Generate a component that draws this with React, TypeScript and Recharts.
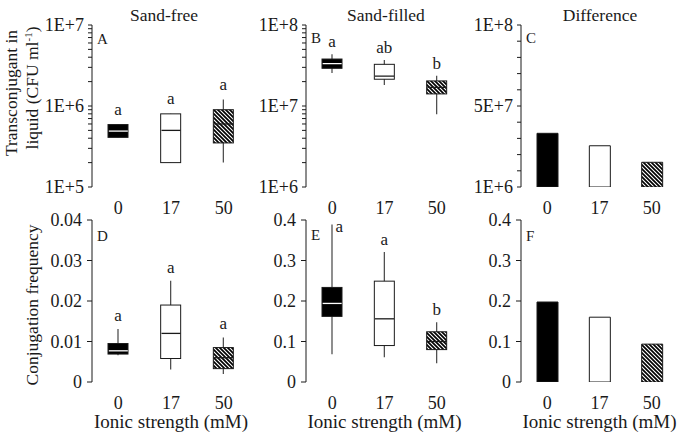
import { ComposedChart, Bar, Line, XAxis, YAxis, Cell, LabelList } from "recharts";

const FONT = "Liberation Serif, Times New Roman, serif";
const INK = "#1a1a1a";

const categories = ["0", "17", "50"];

// A: sand-free, transconjugants in liquid (CFU/ml)
const freeMin = [4.1e5, 2.0e5, 2.0e5];
const freeQ1 = [4.1e5, 2.0e5, 3.5e5];
const freeMedian = [4.9e5, 5.0e5, 6.0e5];
const freeQ3 = [5.9e5, 8.0e5, 9.0e5];
const freeMax = [5.9e5, 8.0e5, 1.2e6];
const freeSig = ["a", "a", "a"];

// B: sand-filled
const filledMin = [2.55e7, 1.82e7, 7.9e6];
const filledQ1 = [2.92e7, 2.14e7, 1.41e7];
const filledMedian = [3.33e7, 2.34e7, 1.7e7];
const filledQ3 = [3.8e7, 3.27e7, 2.04e7];
const filledMax = [4.35e7, 3.7e7, 2.37e7];
const filledSig = ["a", "ab", "b"];

// C: difference
const diffLiquid = [3.38e7, 2.62e7, 1.61e7];

// D: conjugation frequency, sand-free
const freqFreeMin = [0.0066, 0.0031, 0.002];
const freqFreeQ1 = [0.0069, 0.0058, 0.0033];
const freqFreeMedian = [0.0077, 0.012, 0.006];
const freqFreeQ3 = [0.0095, 0.019, 0.0085];
const freqFreeMax = [0.0131, 0.025, 0.011];
const freqFreeSig = ["a", "a", "a"];

// E: conjugation frequency, sand-filled
const freqFilledMin = [0.0685, 0.061, 0.046];
const freqFilledQ1 = [0.162, 0.09, 0.08];
const freqFilledMedian = [0.194, 0.156, 0.1];
const freqFilledQ3 = [0.2335, 0.249, 0.124];
const freqFilledMax = [0.389, 0.321, 0.1475];
const freqFilledSig = ["a", "a", "b"];

// F: difference
const diffFreq = [0.1975, 0.16, 0.0935];

// tick values
const ticksFree = [1e5, 2e5, 3e5, 4e5, 5e5, 6e5, 7e5, 8e5, 9e5, 1e6, 2e6, 3e6, 4e6, 5e6, 6e6, 7e6, 8e6, 9e6, 1e7];
const ticksFilled = [1e6, 2e6, 3e6, 4e6, 5e6, 6e6, 7e6, 8e6, 9e6, 1e7, 2e7, 3e7, 4e7, 5e7, 6e7, 7e7, 8e7, 9e7, 1e8];
const ticksDiff = [1e6, 1.09e7, 2.08e7, 3.07e7, 4.06e7, 5.05e7, 6.04e7, 7.03e7, 8.02e7, 9.01e7, 1e8];
const diffLabelled = [1e6, 5.05e7, 1e8];
const ticksFreqFree = [0, 0.01, 0.02, 0.03, 0.04];
const ticksFreqFilled = [0, 0.1, 0.2, 0.3, 0.4];
const bandTicks = [0, 1, 2, 3];

const fills = ["#000", "#fff", "url(#hatch)"];
const medianColors = ["#fff", INK, INK];

const boxRows = (mn: number[], q1: number[], md: number[], q3: number[], mx: number[], sig: string[]) =>
  categories.map((cat, i) => ({ cat, wh: [mn[i], mx[i]], box: [q1[i], q3[i]], med: md[i], sig: sig[i] }));
const barRows = (v: number[]) => categories.map((cat, i) => ({ cat, v: v[i] }));

const expFmt = (v: number) => {
  const s = v.toExponential(0);
  return s.startsWith("1e") ? s.toUpperCase() : "";
};
const diffFmt = (v: number) => (diffLabelled.includes(v) ? v.toExponential(0).toUpperCase() : "");

const tickStyle = { fill: INK, fontSize: 18, fontFamily: FONT };

const idx = (p: any) => (typeof p.index === "number" ? p.index : categories.indexOf(p.payload?.cat ?? p.cat));

const Whisker = (p: any) => {
  const cx = p.x + p.width / 2;
  return <line x1={cx} x2={cx} y1={p.y} y2={p.y + p.height} stroke="#444" strokeWidth={1.2} />;
};
const BoxShape = (p: any) => (
  <rect x={p.x} y={p.y} width={p.width} height={p.height} fill={fills[idx(p)]} stroke={INK} strokeWidth={1} />
);
const MedianDot = (p: any) => (
  <line key={`m${p.index}`} x1={p.cx - 9.5} x2={p.cx + 9.5} y1={p.cy} y2={p.cy} stroke={medianColors[p.index]} strokeWidth={1.3} />
);

const sigLabel = (offset: number, plotTop: number) => (p: any) => {
  const vb = p.viewBox ?? p;
  const x = vb.x ?? p.x;
  const y = vb.y ?? p.y;
  const w = vb.width ?? p.width;
  const cx = x + w / 2;
  if (y - offset - 14 < plotTop) {
    return (
      <text x={cx + 3.5} y={y + 8} fill={INK} fontSize={17} fontFamily={FONT}>
        {p.value}
      </text>
    );
  }
  return (
    <text x={cx} y={y - offset} textAnchor="middle" fill={INK} fontSize={17} fontFamily={FONT}>
      {p.value}
    </text>
  );
};

type Geo = { left: number; top: number; axisW: number; plotW: number; mt: number; plotH: number; xh: number };

const Panel = ({ g, rows, kind, y, sigOffset = 8, xTitle = false }: any) => {
  const geo = g as Geo;
  const width = geo.axisW + geo.plotW + 6;
  const height = geo.mt + geo.plotH + geo.xh;
  return (
    <div style={{ position: "absolute", left: geo.left, top: geo.top }}>
      <ComposedChart width={width} height={height} data={rows} margin={{ top: geo.mt, right: 6, bottom: 0, left: 0 }}>
        <XAxis xAxisId={0} type="number" domain={[0, 3]} ticks={bandTicks} tick={false} tickSize={5} height={0} stroke={INK} allowDataOverflow />
        <XAxis
          xAxisId={1}
          dataKey="cat"
          axisLine={false}
          tickLine={false}
          tickSize={5}
          tickMargin={9}
          height={geo.xh}
          interval={0}
          tick={tickStyle}
          label={
            xTitle
              ? { value: "Ionic strength (mM)", position: "insideBottom", offset: 4, fill: INK, fontSize: 19, fontFamily: FONT }
              : undefined
          }
        />
        <XAxis xAxisId={2} dataKey="cat" hide />
        <XAxis xAxisId={3} orientation="top" type="number" domain={[0, 1]} tick={false} tickLine={false} height={0} stroke={INK} />
        <YAxis
          yAxisId={0}
          width={geo.axisW}
          type="number"
          scale={y.scale}
          domain={y.domain}
          ticks={y.ticks}
          tickFormatter={y.fmt}
          interval={0}
          tickSize={y.tickSize}
          tickMargin={y.tickMargin}
          allowDataOverflow
          stroke={INK}
          tick={tickStyle}
        />
        <YAxis yAxisId={1} orientation="right" type="number" domain={[0, 1]} tick={false} tickLine={false} width={0} stroke={INK} />
        {kind === "box" && (
          <Bar xAxisId={1} yAxisId={0} dataKey="wh" barSize={20} shape={Whisker} isAnimationActive={false}>
            <LabelList dataKey="sig" content={sigLabel(sigOffset, geo.mt)} />
          </Bar>
        )}
        {kind === "box" && (
          <Bar xAxisId={2} yAxisId={0} dataKey="box" barSize={20} shape={BoxShape} isAnimationActive={false} />
        )}
        {kind === "box" && (
          <Line xAxisId={1} yAxisId={0} dataKey="med" stroke="none" dot={MedianDot} activeDot={false} isAnimationActive={false} />
        )}
        {kind === "bar" && (
          <Bar xAxisId={1} yAxisId={0} dataKey="v" barSize={21} stroke={INK} strokeWidth={1} isAnimationActive={false}>
            {rows.map((_: any, i: number) => (
              <Cell key={i} fill={fills[i]} />
            ))}
          </Bar>
        )}
      </ComposedChart>
    </div>
  );
};

const topRow = { top: 0, mt: 25, plotH: 162, xh: 40 };
const bottomRow = { top: 200, mt: 20, plotH: 162, xh: 50 };
const colA = { left: 0, axisW: 92, plotW: 158 };
const colB = { left: 246, axisW: 60, plotW: 157 };
const colC = { left: 461, axisW: 60, plotW: 157 };

const logFree = { scale: "log", domain: [1e5, 1e7], ticks: ticksFree, fmt: expFmt, tickSize: 4, tickMargin: 4 };
const logFilled = { scale: "log", domain: [1e6, 1e8], ticks: ticksFilled, fmt: expFmt, tickSize: 4, tickMargin: 4 };
const linDiff = { scale: "auto", domain: [1e6, 1e8], ticks: ticksDiff, fmt: diffFmt, tickSize: 4, tickMargin: 4 };
const linFreqFree = { scale: "auto", domain: [0, 0.04], ticks: ticksFreqFree, fmt: undefined, tickSize: 5, tickMargin: 5 };
const linFreqFilled = { scale: "auto", domain: [0, 0.4], ticks: ticksFreqFilled, fmt: undefined, tickSize: 5, tickMargin: 5 };

const textStyle = { fill: INK, fontFamily: FONT };

const App = () => {
  return (
    <div style={{ position: "absolute", left: 0, top: 0, width: 685, height: 436, background: "#fff", fontFamily: FONT }}>
      <Panel g={{ ...colA, ...topRow }} kind="box" y={logFree} sigOffset={10}
        rows={boxRows(freeMin, freeQ1, freeMedian, freeQ3, freeMax, freeSig)} />
      <Panel g={{ ...colB, ...topRow }} kind="box" y={logFilled} sigOffset={7}
        rows={boxRows(filledMin, filledQ1, filledMedian, filledQ3, filledMax, filledSig)} />
      <Panel g={{ ...colC, ...topRow }} kind="bar" y={linDiff} rows={barRows(diffLiquid)} />
      <Panel g={{ ...colA, ...bottomRow }} kind="box" y={linFreqFree} sigOffset={8} xTitle
        rows={boxRows(freqFreeMin, freqFreeQ1, freqFreeMedian, freqFreeQ3, freqFreeMax, freqFreeSig)} />
      <Panel g={{ ...colB, ...bottomRow }} kind="box" y={linFreqFilled} sigOffset={7} xTitle
        rows={boxRows(freqFilledMin, freqFilledQ1, freqFilledMedian, freqFilledQ3, freqFilledMax, freqFilledSig)} />
      <Panel g={{ ...colC, ...bottomRow }} kind="bar" y={linFreqFilled} xTitle rows={barRows(diffFreq)} />

      <svg width={685} height={436} style={{ position: "absolute", left: 0, top: 0, pointerEvents: "none" }}>
        <defs>
          <pattern id="hatch" width={4} height={4} patternUnits="userSpaceOnUse">
            <rect width={4} height={4} fill="#fff" />
            <path d="M-1,-1 L5,5 M-1,3 L1,5 M3,-1 L5,1" stroke="#000" strokeWidth={1.7} />
          </pattern>
        </defs>
        <g {...textStyle} fontSize={17.5} textAnchor="middle">
          <text x={164} y={21}>Sand-free</text>
          <text x={386} y={21}>Sand-filled</text>
          <text x={600} y={21}>Difference</text>
        </g>
        <g {...textStyle} fontSize={15}>
          <text x={97} y={44}>A</text>
          <text x={311} y={43}>B</text>
          <text x={526} y={43}>C</text>
          <text x={97} y={241}>D</text>
          <text x={311} y={240}>E</text>
          <text x={526} y={241}>F</text>
        </g>
        <g {...textStyle} fontSize={17.5} textAnchor="middle">
          <text transform="translate(17,93) rotate(-90)">Transconjugant in</text>
          <text transform="translate(38,88) rotate(-90)">
            liquid (CFU ml<tspan dy={-6} fontSize={11}>-1</tspan>
            <tspan dy={6}>)</tspan>
          </text>
          <text transform="translate(37.5,305) rotate(-90)">Conjugation frequency</text>
        </g>
      </svg>
    </div>
  );
};

export default App;
